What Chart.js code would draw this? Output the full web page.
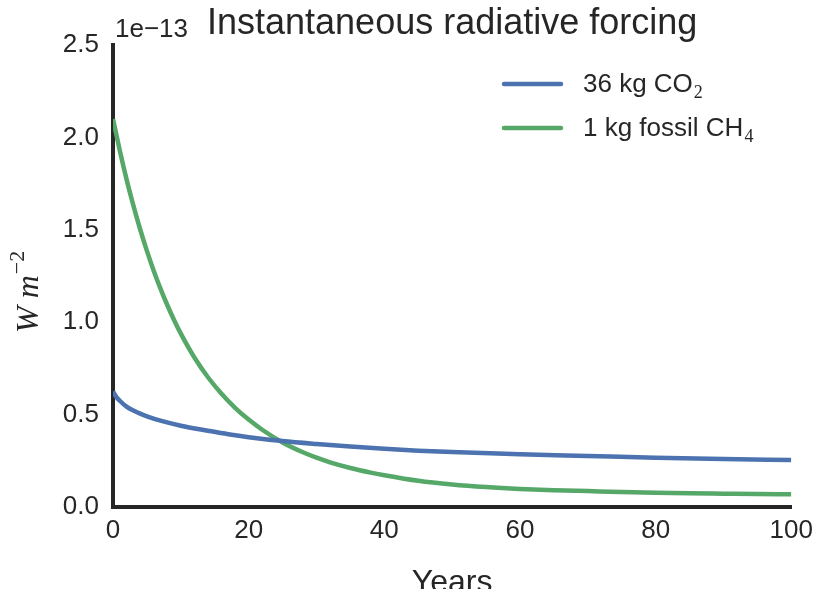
<!DOCTYPE html>
<html>
<head>
<meta charset="utf-8">
<script src="https://cdn.jsdelivr.net/npm/chart.js@4/dist/chart.umd.min.js"></script>
<style>
  html, body { margin: 0; padding: 0; background: #ffffff; }
  #wrap { width: 821px; height: 589px; position: relative; }
</style>
</head>
<body>
<div id="wrap"><canvas id="c" width="821" height="589"></canvas></div>
<script>
// ---- Data (values in units of 1e-13 W m^-2) ----
const yearsCO2 = [0, 0.5, 1, 2, 3, 4, 5, 7, 10, 14, 17, 20, 25, 30, 35, 40, 45, 50, 60, 70, 80, 90, 100];
const co2Forcing = [0.625, 0.595, 0.575, 0.543, 0.522, 0.505, 0.491, 0.467, 0.440, 0.413, 0.394, 0.378, 0.357, 0.341, 0.327, 0.315, 0.305, 0.297, 0.285, 0.276, 0.267, 0.260, 0.254];

const yearsCH4 = [0, 1, 2, 3, 4, 5, 6, 7, 8, 9, 10, 12, 14, 16, 18, 20, 22, 25, 28, 30, 32, 35, 38, 40, 45, 50, 55, 60, 65, 70, 75, 80, 85, 90, 95, 100];
const ch4Forcing = [2.100, 1.929, 1.773, 1.632, 1.503, 1.386, 1.279, 1.182, 1.093, 1.012, 0.938, 0.809, 0.702, 0.613, 0.537, 0.473, 0.418, 0.349, 0.296, 0.267, 0.242, 0.211, 0.186, 0.172, 0.142, 0.122, 0.108, 0.098, 0.091, 0.086, 0.081, 0.077, 0.074, 0.072, 0.070, 0.069];

const xTicks = [0, 20, 40, 60, 80, 100];
const yTicks = [0.0, 0.5, 1.0, 1.5, 2.0, 2.5];

const seriesNames = [["36 kg CO", "2"], ["1 kg fossil CH", "4"]];
const seriesColors = ["#4C72B0", "#55A868"];

const titleText = "Instantaneous radiative forcing";
const xLabelText = "Years";
const offsetText = "1e\u221213";

// ---- Build ----
const toPts = (xs, ys) => xs.map((x, i) => ({ x: x, y: ys[i] }));
const SANS = '"Liberation Sans", Arial, sans-serif';
const SERIF = '"Liberation Serif", "Times New Roman", serif';
const INK = '#262626';

const textPlugin = {
  id: 'texts',
  afterDraw(chart) {
    const ctx = chart.ctx;
    const a = chart.chartArea;
    ctx.save();
    ctx.fillStyle = INK;
    // title
    ctx.font = '36px ' + SANS;
    ctx.textAlign = 'center';
    ctx.textBaseline = 'alphabetic';
    ctx.fillText(titleText, (a.left + a.right) / 2, 34);
    // offset text
    ctx.font = '26px ' + SANS;
    ctx.textAlign = 'left';
    ctx.fillText(offsetText, a.left + 2, 37);
    // x label
    ctx.font = '32px ' + SANS;
    ctx.textAlign = 'center';
    ctx.fillText(xLabelText, (a.left + a.right) / 2, 592);
    // y label (rotated math)
    ctx.save();
    ctx.translate(38, 333);
    ctx.rotate(-Math.PI / 2);
    ctx.textAlign = 'left';
    ctx.font = 'italic 32px ' + SERIF;
    let x = 0;
    ctx.fillText('W', 0, 0);
    x += ctx.measureText('W').width + 8;
    ctx.fillText('m', x, 0);
    x += ctx.measureText('m').width + 1;
    ctx.font = '22px ' + SERIF;
    ctx.fillText('\u22122', x, -14);
    ctx.restore();
    // legend
    const rows = [{ y: 84 }, { y: 128 }];
    rows.forEach((r, i) => {
      ctx.strokeStyle = seriesColors[i];
      ctx.lineWidth = 4.5;
      ctx.lineCap = 'round';
      ctx.beginPath();
      ctx.moveTo(504, r.y);
      ctx.lineTo(561, r.y);
      ctx.stroke();
      ctx.fillStyle = INK;
      ctx.font = '26px ' + SANS;
      ctx.textAlign = 'left';
      ctx.fillText(seriesNames[i][0], 583, r.y + 8);
      const w = ctx.measureText(seriesNames[i][0]).width;
      ctx.font = '18px ' + SERIF;
      ctx.fillText(seriesNames[i][1], 583 + w + 1, r.y + 14);
    });
    ctx.restore();
  }
};

new Chart(document.getElementById('c'), {
  type: 'line',
  data: {
    datasets: [
      { label: seriesNames[0].join(''), data: toPts(yearsCO2, co2Forcing), borderColor: seriesColors[0], borderWidth: 4.5, pointRadius: 0, cubicInterpolationMode: 'monotone', fill: false },
      { label: seriesNames[1].join(''), data: toPts(yearsCH4, ch4Forcing), borderColor: seriesColors[1], borderWidth: 4.5, pointRadius: 0, cubicInterpolationMode: 'monotone', fill: false }
    ]
  },
  options: {
    responsive: false,
    animation: false,
    devicePixelRatio: 1,
    layout: { padding: { left: 0, top: 45, right: 28, bottom: 0 } },
    plugins: { legend: { display: false }, title: { display: false }, tooltip: { enabled: false } },
    scales: {
      x: {
        type: 'linear', min: 0, max: 100,
        afterFit(s) { s.height = 82; },
        afterBuildTicks(s) { s.ticks = xTicks.map(v => ({ value: v })); },
        grid: { display: false, drawTicks: false },
        border: { display: true, color: INK, width: 4 },
        ticks: { color: INK, font: { family: SANS, size: 26 }, padding: 8, maxRotation: 0, callback: v => String(v) }
      },
      y: {
        type: 'linear', min: 0, max: 2.5,
        afterFit(s) { s.width = 113; },
        afterBuildTicks(s) { s.ticks = yTicks.map(v => ({ value: v })); },
        grid: { display: false, drawTicks: false },
        border: { display: true, color: INK, width: 4 },
        ticks: { color: INK, font: { family: SANS, size: 26 }, padding: 14, callback: v => Number(v).toFixed(1) }
      }
    }
  },
  plugins: [textPlugin]
});
</script>
</body>
</html>
